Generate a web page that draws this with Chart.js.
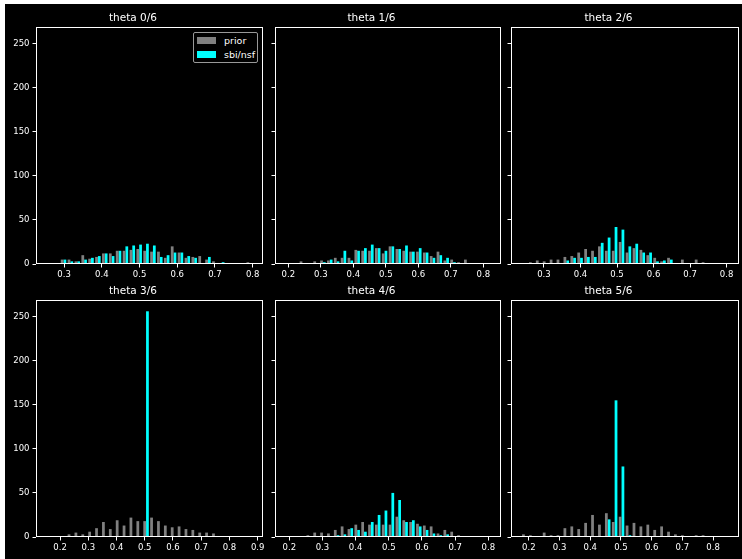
<!DOCTYPE html>
<html>
<head>
<meta charset="utf-8">
<script src="https://cdn.jsdelivr.net/npm/chart.js@4.4.0/dist/chart.umd.min.js"></script>
<style>
body{margin:0;width:742px;height:559px;overflow:hidden;position:relative;background:#fff;font-family:"DejaVu Sans",sans-serif}
#fig{position:absolute;left:5px;top:4px;width:737px;height:555px;background:#000}
canvas{position:absolute}
.legend{position:absolute;left:193px;top:32px;width:63px;height:29px;border:1px solid #999;border-radius:2px;background:#000;color:#fff;font-size:9.5px}
.legend .sw{position:absolute;left:3px;width:19px;height:7px}
.legend .lb{position:absolute;left:30px;line-height:11px}
</style>
</head>
<body>
<div id="fig"></div>

<script>
/* -------------------------- data -------------------------- */
const NBINS = 30;
const titles = ["theta 0/6","theta 1/6","theta 2/6","theta 3/6","theta 4/6","theta 5/6"];
// histogram bin range [first edge, last edge] per panel
const binRanges = [[0.2528,0.8001],[0.1907,0.8229],[0.2381,0.8056],[0.1512,0.8824],[0.1879,0.8073],[0.1756,0.8508]];

const prior0 = [1,1,5,5,3,10,6,8,12,12,15,15,16,17,15,14,14,7,20,13,7,8,9,5,3,0,0,1,0,2];
const post0  = [0,0,5,3,3,5,7,9,12,9,15,20,21,22,23,21,8,10,13,13,9,7,1,8,1,2,0,0,0,0];
const prior1 = [1,0,3,0,3,4,4,7,7,7,16,15,15,18,12,20,17,15,14,14,13,9,14,4,5,2,5,0,1,1];
const post1  = [0,0,0,1,0,2,5,3,15,4,15,18,22,18,15,20,17,21,14,18,13,7,10,7,2,1,0,0,0,0];
const prior2 = [1,2,4,3,5,5,8,9,13,17,15,20,15,15,25,13,18,16,10,7,3,7,1,5,0,5,2,1,0,1];
const post2  = [0,0,0,0,0,1,4,7,7,8,8,24,30,42,39,20,23,13,13,3,4,5,1,0,1,0,0,0,0,0];
const prior3 = [1,0,1,3,5,3,6,10,17,9,19,13,22,18,18,22,18,13,11,12,9,8,5,5,4,1,1,0,0,1];
const post3  = [0,0,0,0,0,0,0,0,0,0,0,0,0,0,256,0,0,0,0,0,0,0,0,0,0,0,0,0,0,0];
const prior4 = [1,1,1,2,5,5,4,8,12,9,14,17,14,14,14,14,23,19,17,15,13,12,4,8,6,2,1,1,0,1];
const post4  = [0,0,0,0,0,0,1,2,3,10,8,6,17,25,30,50,42,17,19,12,8,4,2,3,0,0,0,0,0,0];
const prior5 = [3,2,0,5,2,2,10,12,9,16,25,14,27,17,23,13,16,12,14,8,12,6,3,2,1,2,2,1,0,1];
const post5  = [0,0,0,0,0,0,0,0,0,0,0,0,20,155,80,2,0,0,0,0,0,0,0,0,0,0,0,0,0,0];

const priors = [prior0,prior1,prior2,prior3,prior4,prior5];
const posts  = [post0,post1,post2,post3,post4,post5];
const YMAX = 256*1.05;

/* -------------------------- layout -------------------------- */
const colLeft=[36,275,511], colW=[227,226,228];
const rowTop=[27,300], plotH=237;
const YAX=33, TITLE_H=20, XAX=20, PADR=10;

const framePlugin={
  id:"frame",
  afterDatasetsDraw(chart){
    const {ctx,chartArea:a}=chart;
    ctx.save();
    ctx.strokeStyle="#ffffff"; ctx.lineWidth=1;
    ctx.strokeRect(a.left+0.5,a.top+0.5,a.right-a.left-1,a.bottom-a.top-1);
    ctx.restore();
  }
};

function centers(r){
  const w=(r[1]-r[0])/NBINS;
  return Array.from({length:NBINS},(_,i)=>r[0]+w*(i+0.5));
}

function makePanel(k){
  const row=Math.floor(k/3), col=k%3;
  const w=colW[col];
  const cv=document.createElement("canvas");
  const cw=YAX+w+PADR, ch=TITLE_H+plotH+XAX;
  cv.width=cw; cv.height=ch;
  cv.style.left=(colLeft[col]-YAX)+"px"; cv.style.top=(rowTop[row]-TITLE_H)+"px";
  cv.style.width=cw+"px"; cv.style.height=ch+"px";
  document.body.appendChild(cv);

  const r=binRanges[k], span=r[1]-r[0];
  const xs=centers(r);
  const pts=a=>xs.map((x,i)=>({x,y:a[i]}));
  const tickFont={family:"DejaVu Sans",size:8.5};

  new Chart(cv,{
    type:"bar",
    data:{datasets:[
      {label:"prior",data:pts(priors[k]),backgroundColor:"#808080",borderWidth:0,categoryPercentage:0.8,barPercentage:1},
      {label:"sbi/nsf",data:pts(posts[k]),backgroundColor:"#00ffff",borderWidth:0,categoryPercentage:0.8,barPercentage:1}
    ]},
    options:{
      responsive:false, animation:false, devicePixelRatio:1,
      layout:{padding:{left:0,right:PADR,top:0,bottom:0}},
      plugins:{
        legend:{display:false}, tooltip:{enabled:false},
        title:{display:true,text:titles[k],color:"#ffffff",font:{family:"DejaVu Sans",size:10.5,weight:"normal"},padding:{top:5,bottom:2.4}}
      },
      scales:{
        x:{type:"linear",offset:false,min:r[0]-0.05*span,max:r[1]+0.05*span,
           border:{display:false},
           grid:{offset:false,drawOnChartArea:false,drawTicks:true,tickLength:3.5,tickColor:"#ffffff"},
           ticks:{stepSize:0.1,includeBounds:false,autoSkip:false,maxRotation:0,color:"#ffffff",font:tickFont,padding:2},
           afterFit:s=>{s.height=XAX;}},
        y:{min:0,max:YMAX,
           border:{display:false},
           grid:{drawOnChartArea:false,drawTicks:true,tickLength:3.5,tickColor:"#ffffff"},
           ticks:{stepSize:50,includeBounds:false,color:col===0?"#ffffff":"rgba(0,0,0,0)",font:tickFont,padding:3},
           afterFit:s=>{s.width=YAX;}}
      }
    },
    plugins:[framePlugin]
  });
}

for(let k=0;k<6;k++) makePanel(k);
</script>

<div class="legend">
  <div class="sw" style="top:4px;background:#808080"></div><div class="lb" style="top:2px">prior</div>
  <div class="sw" style="top:18px;background:#00ffff"></div><div class="lb" style="top:16px">sbi/nsf</div>
</div>
</body>
</html>
